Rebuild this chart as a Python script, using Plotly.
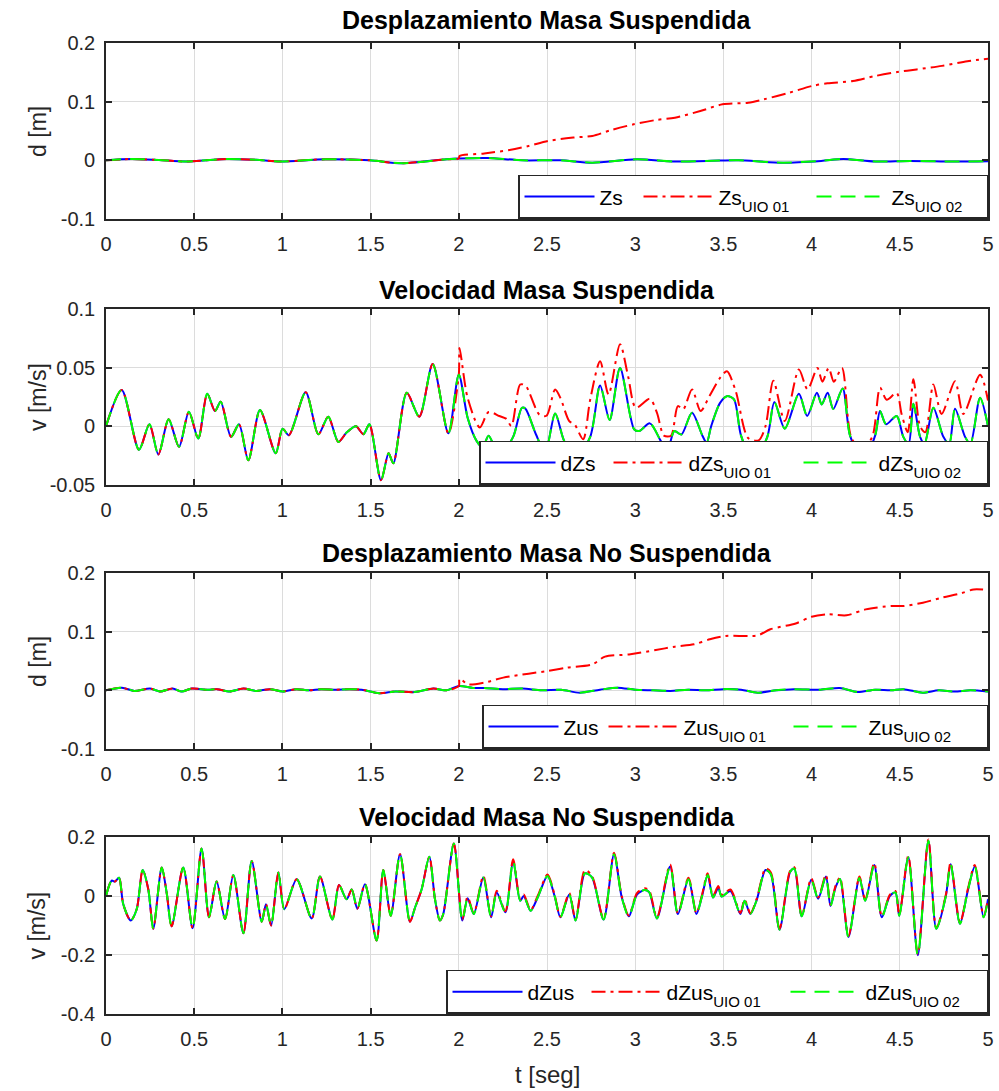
import plotly.graph_objects as go

# ---------------- Desplazamiento Masa Suspendida ----------------
T_ZS = [0, 0.144, 0.30, 0.45, 0.685, 0.85, 0.99, 1.243, 1.495, 1.676, 1.928, 2.0,
        2.162, 2.36, 2.577, 2.757, 3.01, 3.225, 3.477, 3.586, 3.838, 4.054, 4.18,
        4.36, 4.56, 4.81, 5.0]
ZS = [0, 0.0023, 0.0005, -0.002, 0.0023, 0.0008, -0.002, 0.0017, 0.0, -0.005, 0.0017, 0.003,
      0.004, 0.0, 0.0, -0.004, 0.0017, -0.002, -0.0005, 0.0, -0.004, -0.001, 0.0023,
      -0.002, -0.001, -0.0022, -0.0017]
# observer 01 after the switch at t = 2 s
T_ZS_UIO01 = [2.004, 2.144, 2.288, 2.396, 2.505, 2.649, 2.757, 2.865, 2.991, 3.117, 3.225,
              3.369, 3.495, 3.640, 3.730, 3.874, 4.0, 4.09, 4.234, 4.36, 4.486, 4.595,
              4.739, 4.883, 5.0]
ZS_UIO01 = [0.0073, 0.0118, 0.0175, 0.0244, 0.033, 0.0387, 0.0416, 0.0517, 0.0613, 0.0687,
            0.0727, 0.084, 0.0954, 0.0982, 0.104, 0.1153, 0.1266, 0.1312, 0.1352, 0.1437,
            0.1505, 0.155, 0.161, 0.169, 0.1732]

# ---------------- Velocidad Masa Suspendida ----------------
T_DZS_A = [0, 0.089, 0.187, 0.246, 0.297, 0.355, 0.414, 0.470, 0.523, 0.574, 0.618, 0.650,
           0.709, 0.754, 0.807, 0.873, 0.962, 1.001, 1.037, 1.132, 1.204, 1.260, 1.317,
           1.364, 1.417, 1.459, 1.493, 1.559, 1.602, 1.629, 1.705, 1.776, 1.852, 1.941, 2.0]
DZS_A = [0, 0.031, -0.020, 0.0017, -0.024, 0.006, -0.0175, 0.0124, -0.0105, 0.0277, 0.013,
         0.021, -0.009, 0.0017, -0.029, 0.0138, -0.023, -0.002, -0.0076, 0.029, -0.0068,
         0.0082, -0.0133, -0.0054, 0.0, -0.0068, 0.0017, -0.046, -0.023, -0.0316, 0.0285,
         0.0082, 0.053, -0.006, 0.044]
T_DZS_B = [2.05, 2.099, 2.135, 2.169, 2.23, 2.308, 2.358, 2.378, 2.437, 2.49, 2.546, 2.596,
           2.66, 2.745, 2.801, 2.855, 2.914, 2.994, 3.023, 3.083, 3.143, 3.18, 3.222, 3.262,
           3.322, 3.381, 3.405, 3.431, 3.481, 3.520, 3.560, 3.600, 3.67, 3.749, 3.789, 3.848,
           3.928, 3.975, 4.03, 4.057, 4.091, 4.123, 4.176, 4.218, 4.29, 4.36, 4.388, 4.422,
           4.482, 4.52, 4.55, 4.577, 4.615, 4.64, 4.69, 4.747, 4.78, 4.813, 4.87, 4.9, 4.955, 5.0]
DZS_B = [0.0073, -0.012, -0.018, -0.008, -0.025, -0.009, 0.0158, 0.015, -0.0068, -0.022,
         0.011, -0.012, -0.028, -0.009, 0.0347, 0.0054, 0.0497, -0.0025, -0.004, 0.0025,
         -0.012, -0.022, -0.004, -0.007, 0.0116, -0.008, -0.014, 0.0003, 0.020, 0.0257,
         0.023, -0.008, -0.03, -0.009, 0.0206, -0.002, 0.0277, 0.0088, 0.0285, 0.0186,
         0.0285, 0.0147, 0.0322, -0.008, -0.03, -0.008, 0.013, 0.0017, 0.0088, -0.009,
         -0.015, 0.0192, -0.009, -0.015, 0.0158, -0.009, -0.015, 0.015, -0.009, -0.015,
         0.0243, 0.0]
T_DZS_UIO01 = [2.004, 2.05, 2.119, 2.169, 2.229, 2.268, 2.298, 2.348, 2.378, 2.457, 2.497,
               2.546, 2.576, 2.626, 2.656, 2.705, 2.745, 2.801, 2.849, 2.914, 2.96, 3.004,
               3.083, 3.123, 3.163, 3.203, 3.242, 3.272, 3.322, 3.371, 3.421, 3.481, 3.52,
               3.57, 3.64, 3.70, 3.739, 3.783, 3.848, 3.928, 3.977, 4.033, 4.061, 4.097,
               4.126, 4.172, 4.226, 4.29, 4.346, 4.388, 4.426, 4.482, 4.51, 4.545, 4.577,
               4.615, 4.645, 4.69, 4.737, 4.813, 4.86, 4.955, 5.0]
DZS_UIO01 = [0.0667, 0.0242, -0.001, 0.0122, 0.0088, 0.0065, 0.0003, 0.0356, 0.0347, 0.0099,
             0.009, 0.0314, 0.0242, 0.0044, 0.0017, -0.011, 0.0229, 0.0554, 0.0271, 0.070,
             0.0424, 0.0158, 0.0234, 0.0116, -0.008, -0.008, 0.0172, 0.0144, 0.0314, 0.013,
             0.0258, 0.0412, 0.0469, 0.0299, -0.01, -0.012, 0.0003, 0.0389, 0.0045, 0.0483,
             0.0314, 0.0497, 0.038, 0.0497, 0.038, 0.0497, -0.01, -0.02, -0.008, 0.0328,
             0.0226, 0.0285, 0.0105, -0.005, 0.040, 0.0, -0.005, 0.0356, 0.0105, 0.0384,
             0.0105, 0.044, 0.022]

# ---------------- Desplazamiento Masa No Suspendida ----------------
T_ZUS = [0, 0.09, 0.16, 0.25, 0.306, 0.378, 0.43, 0.486, 0.577, 0.63, 0.70, 0.78, 0.85,
         0.93, 1.0, 1.08, 1.15, 1.22, 1.30, 1.38, 1.45, 1.55, 1.64, 1.75, 1.856, 1.93, 2.0,
         2.08, 2.144, 2.25, 2.36, 2.47, 2.58, 2.685, 2.80, 2.90, 3.0, 3.10, 3.20, 3.30,
         3.40, 3.50, 3.60, 3.694, 3.80, 3.90, 4.05, 4.16, 4.26, 4.36, 4.45, 4.52, 4.63,
         4.72, 4.81, 4.90, 5.0]
ZUS = [0, 0.0045, -0.001, 0.003, -0.002, 0.003, -0.002, 0.003, 0.001, 0.002, -0.002, 0.003,
       -0.001, 0.002, -0.002, 0.002, 0.0, 0.002, 0.001, 0.002, 0.001, -0.005, -0.002, -0.003,
       0.003, 0.0, 0.0074, 0.004, 0.004, 0.002, 0.003, 0.0, 0.001, -0.004, 0.001, 0.0045,
       0.001, 0.0, -0.001, 0.001, 0.0, 0.002, 0.001, -0.004, 0.0, 0.002, 0.001, 0.004,
       -0.003, 0.001, 0.0, 0.002, -0.004, 0.0, -0.002, 0.0, -0.002]
T_ZUS_UIO01 = [2.004, 2.054, 2.144, 2.252, 2.396, 2.505, 2.613, 2.757, 2.829, 2.973, 3.117,
               3.225, 3.333, 3.423, 3.514, 3.694, 3.766, 3.91, 4.0, 4.09, 4.198, 4.306,
               4.45, 4.522, 4.631, 4.739, 4.847, 4.919, 5.0]
ZUS_UIO01 = [0.02, 0.0102, 0.0131, 0.0216, 0.0284, 0.033, 0.0386, 0.0443, 0.0574, 0.0614,
             0.0687, 0.0744, 0.0784, 0.0869, 0.0926, 0.0937, 0.104, 0.114, 0.1255, 0.1295,
             0.1278, 0.138, 0.1437, 0.1437, 0.1494, 0.158, 0.1653, 0.172, 0.171]

# ---------------- Velocidad Masa No Suspendida ----------------
T_DZUS = [0, 0.032, 0.051, 0.074, 0.098, 0.14, 0.174, 0.208, 0.24, 0.268,
          0.316, 0.344, 0.372, 0.438, 0.491, 0.542, 0.584, 0.627, 0.675, 0.722,
          0.779, 0.826, 0.883, 0.907, 0.936, 0.977, 1.011, 1.081, 1.166, 1.213,
          1.283, 1.321, 1.364, 1.393, 1.425, 1.468, 1.534, 1.572, 1.614, 1.667,
          1.723, 1.752, 1.789, 1.833, 1.865, 1.893, 1.912, 1.972, 2.02, 2.05,
          2.085, 2.139, 2.183, 2.215, 2.264, 2.308, 2.348, 2.368, 2.407, 2.447,
          2.503, 2.543, 2.576, 2.626, 2.662, 2.715, 2.755, 2.821, 2.88, 2.924,
          2.964, 3.01, 3.053, 3.079, 3.123, 3.198, 3.242, 3.302, 3.347, 3.377,
          3.411, 3.441, 3.471, 3.49, 3.54, 3.596, 3.62, 3.653, 3.689, 3.739,
          3.769, 3.818, 3.878, 3.902, 3.944, 3.998, 4.037, 4.081, 4.107, 4.136,
          4.161, 4.209, 4.271, 4.304, 4.355, 4.398, 4.443, 4.475, 4.497, 4.548,
          4.602, 4.662, 4.707, 4.761, 4.788, 4.841, 4.887, 4.925, 4.975, 5.0]
DZUS = [0, 0.052, 0.049, 0.062, -0.028, -0.083, -0.045, 0.088, 0.022, -0.111,
        0.097, 0.011, -0.103, 0.097, -0.109, 0.161, -0.072, 0.049, -0.078, 0.071,
        -0.126, 0.119, -0.087, -0.028, -0.1, 0.08, -0.045, 0.057, -0.076, 0.066,
        -0.08, 0.037, -0.011, 0.022, -0.043, 0.04, -0.151, 0.088, -0.067, 0.142,
        -0.087, -0.039, 0.022, 0.133, -0.011, -0.083, -0.061, 0.178, -0.083, -0.008,
        -0.061, 0.063, -0.072, 0.012, -0.055, 0.119, -0.016, 0.0, -0.05, -0.005,
        0.068, 0.0, -0.072, 0.005, -0.083, 0.077, 0.063, -0.08, 0.142, -0.005,
        -0.069, 0.005, 0.02, 0.013, -0.076, 0.1, -0.061, 0.057, -0.061, -0.005,
        0.071, -0.005, 0.028, -0.002, 0.017, -0.061, -0.016, -0.061, -0.013, 0.088,
        0.074, -0.114, 0.081, 0.093, -0.069, 0.055, -0.009, 0.066, -0.034, 0.03,
        0.058, -0.139, 0.061, -0.016, 0.105, -0.072, 0.0, 0.012, -0.067, 0.131,
        -0.201, 0.187, -0.111, 0.0, 0.108, -0.094, 0.022, 0.1, -0.072, -0.011]
DZUS_UIO01 = [0, 0.052, 0.049, 0.062, -0.028, -0.083, -0.045, 0.088, 0.022, -0.111,
              0.097, 0.011, -0.103, 0.097, -0.109, 0.161, -0.072, 0.049, -0.078, 0.071,
              -0.126, 0.119, -0.087, -0.028, -0.1, 0.08, -0.045, 0.057, -0.076, 0.066,
              -0.08, 0.037, -0.011, 0.022, -0.043, 0.04, -0.151, 0.088, -0.067, 0.142,
              -0.087, -0.039, 0.022, 0.133, -0.011, -0.083, -0.061, 0.178, -0.08, -0.003,
              -0.058, 0.068, -0.069, 0.018, -0.052, 0.125, -0.011, 0.005, -0.047, 0.0,
              0.073, 0.004, -0.07, 0.01, -0.08, 0.088, 0.068, -0.077, 0.147, -0.001,
              -0.066, 0.01, 0.026, 0.019, -0.073, 0.107, -0.058, 0.062, -0.058, 0.0,
              0.077, 0.0, 0.034, 0.004, 0.022, -0.058, -0.012, -0.058, -0.009, 0.093,
              0.08, -0.111, 0.086, 0.098, -0.066, 0.06, -0.005, 0.072, -0.03, 0.035,
              0.063, -0.136, 0.066, -0.012, 0.112, -0.069, 0.004, 0.017, -0.064, 0.136,
              -0.198, 0.192, -0.108, 0.004, 0.113, -0.091, 0.027, 0.105, -0.069, -0.007]

# ---------------- axes ----------------
T_TICKS = [0, 0.5, 1, 1.5, 2, 2.5, 3, 3.5, 4, 4.5, 5]
T_TICK_TEXT = ["0", "0.5", "1", "1.5", "2", "2.5", "3", "3.5", "4", "4.5", "5"]
D_TICKS = [-0.1, 0, 0.1, 0.2]
D_TICK_TEXT = ["-0.1", "0", "0.1", "0.2"]
VS_TICKS = [-0.05, 0, 0.05, 0.1]
VS_TICK_TEXT = ["-0.05", "0", "0.05", "0.1"]
VUS_TICKS = [-0.4, -0.2, 0, 0.2]
VUS_TICK_TEXT = ["-0.4", "-0.2", "0", "0.2"]

TITLES = ["Desplazamiento Masa Suspendida", "Velocidad Masa Suspendida",
          "Desplazamiento Masa No Suspendida", "Velocidad Masa No Suspendida"]
YLABELS = ["d [m]", "v [m/s]", "d [m]", "v [m/s]"]
SIGNALS = ["Zs", "dZs", "Zus", "dZus"]

BLUE = "rgb(0,0,255)"
RED = "rgb(255,0,0)"
GREEN = "rgb(0,255,0)"
INK = "#262626"
GRID = "#dcdcdc"
FONT = "Liberation Sans, Arial, Helvetica, sans-serif"

# panel rectangles in paper fractions (bottom, top)
Y_DOMAINS = [(0.7993, 0.9606), (0.5555, 0.7168), (0.3135, 0.4748), (0.0706, 0.2328)]
X_DOMAIN = (0.1061, 0.989)
TITLE_Y = [0.9817, 0.7342, 0.4931, 0.2511]
# text slot widths of the legend entries, per panel
LEGEND_SLOTS = [[34, 88, 90], [43, 105, 103], [35, 100, 113], [54, 114, 116]]


def upto_switch(t, v):
    pts = [(a, b) for a, b in zip(t, v) if a <= 2.0]
    return [p[0] for p in pts], [p[1] for p in pts]


def sub_label(sig, tag):
    # lowered, smaller tag written as a styled span
    return f"{sig}<span style='font-size:15px;baseline-shift:-7px'>{tag}</span>"


panels = []
# (measured t, measured v, uio01 t, uio01 v, uio02 t, uio02 v)
t1a, v1a = upto_switch(T_ZS, ZS)
panels.append((T_ZS, ZS, t1a + T_ZS_UIO01, v1a + ZS_UIO01, T_ZS, ZS))
t2 = T_DZS_A + T_DZS_B
v2 = DZS_A + DZS_B
panels.append((t2, v2, T_DZS_A + T_DZS_UIO01, DZS_A + DZS_UIO01, t2, v2))
t3a, v3a = upto_switch(T_ZUS, ZUS)
panels.append((T_ZUS, ZUS, t3a + T_ZUS_UIO01, v3a + ZUS_UIO01, T_ZUS, ZUS))
panels.append((T_DZUS, DZUS, T_DZUS, DZUS_UIO01, T_DZUS, DZUS))

fig = go.Figure()
for i, (tm, vm, tu1, vu1, tu2, vu2) in enumerate(panels):
    n = i + 1
    xa = "x" if n == 1 else f"x{n}"
    ya = "y" if n == 1 else f"y{n}"
    lg = "legend" if n == 1 else f"legend{n}"
    sig = SIGNALS[i]
    slots = LEGEND_SLOTS[i]
    common = dict(mode="lines", xaxis=xa, yaxis=ya, legend=lg, hoverinfo="skip")
    fig.add_trace(go.Scatter(x=tm, y=vm, name=sig, legendwidth=slots[0],
                             line=dict(color=BLUE, width=2, shape="spline", smoothing=0.8),
                             **common))
    fig.add_trace(go.Scatter(x=tu1, y=vu1, name=sub_label(sig, "UIO 01"),
                             legendwidth=slots[1],
                             line=dict(color=RED, width=2, shape="spline", smoothing=0.8,
                                       dash="14px,5px,3px,5px"),
                             **common))
    fig.add_trace(go.Scatter(x=tu2, y=vu2, name=sub_label(sig, "UIO 02"),
                             legendwidth=slots[2],
                             line=dict(color=GREEN, width=2, shape="spline", smoothing=0.8,
                                       dash="15px,9px"),
                             **common))

axis_common = dict(showline=True, linecolor=INK, linewidth=1.5, mirror="ticks",
                   ticks="inside", ticklen=6, tickwidth=1.5, tickcolor=INK,
                   showgrid=True, gridcolor=GRID, gridwidth=1, zeroline=False,
                   tickfont=dict(family=FONT, size=20, color=INK))

y_specs = [(D_TICKS, D_TICK_TEXT, [-0.1, 0.2]),
           (VS_TICKS, VS_TICK_TEXT, [-0.05, 0.1]),
           (D_TICKS, D_TICK_TEXT, [-0.1, 0.2]),
           (VUS_TICKS, VUS_TICK_TEXT, [-0.4, 0.2])]

layout = dict(width=999, height=1091,
              margin=dict(l=0, r=0, t=0, b=0, pad=0, autoexpand=False),
              paper_bgcolor="white", plot_bgcolor="white", showlegend=True,
              font=dict(family=FONT, color=INK))
annotations = []
for i in range(4):
    n = i + 1
    xk = "xaxis" if n == 1 else f"xaxis{n}"
    yk = "yaxis" if n == 1 else f"yaxis{n}"
    ya = "y" if n == 1 else f"y{n}"
    xa = "x" if n == 1 else f"x{n}"
    layout[xk] = dict(domain=list(X_DOMAIN), anchor=ya, range=[0, 5],
                      tickvals=T_TICKS, ticktext=T_TICK_TEXT, ticklabelstandoff=6,
                      **axis_common)
    tv, tt, rng = y_specs[i]
    layout[yk] = dict(domain=list(Y_DOMAINS[i]), anchor=xa, range=rng,
                      tickvals=tv, ticktext=tt, ticklabelstandoff=5, **axis_common)
    lk = "legend" if n == 1 else f"legend{n}"
    layout[lk] = dict(orientation="h", x=X_DOMAIN[1], xanchor="right",
                      y=Y_DOMAINS[i][0], yanchor="bottom",
                      bgcolor="white", bordercolor=INK, borderwidth=1.5,
                      font=dict(family=FONT, size=21, color="black"),
                      itemwidth=70, itemclick=False, itemdoubleclick=False)
    annotations.append(dict(text=f"<b>{TITLES[i]}</b>", xref="paper", yref="paper",
                            x=(X_DOMAIN[0] + X_DOMAIN[1]) / 2, y=TITLE_Y[i],
                            xanchor="center", yanchor="middle", showarrow=False,
                            font=dict(family=FONT, size=25, color="black")))
    annotations.append(dict(text=YLABELS[i], xref="paper", yref="paper",
                            x=0.038, y=sum(Y_DOMAINS[i]) / 2, textangle=-90,
                            xanchor="center", yanchor="middle", showarrow=False,
                            font=dict(family=FONT, size=23, color=INK)))

annotations.append(dict(text="t [seg]", xref="paper", yref="paper",
                        x=(X_DOMAIN[0] + X_DOMAIN[1]) / 2, y=0.0147,
                        xanchor="center", yanchor="middle", showarrow=False,
                        font=dict(family=FONT, size=24, color=INK)))
layout["annotations"] = annotations
fig.update_layout(**layout)

fig.write_html("out.html")
